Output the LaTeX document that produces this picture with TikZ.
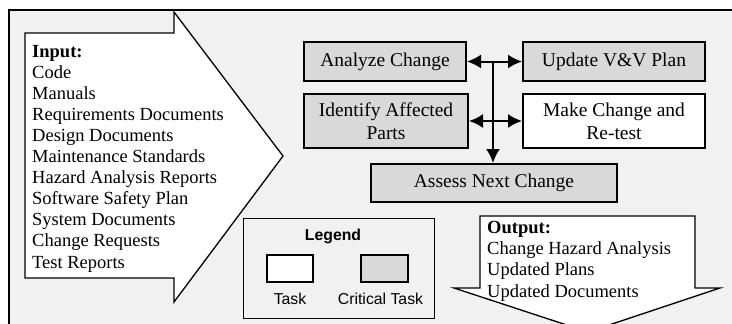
\documentclass[tikz,border=0pt]{standalone}
\usepackage{fontspec}
\setmainfont{Liberation Serif}
\setsansfont{Liberation Sans}
\usetikzlibrary{arrows.meta}
\definecolor{bggray}{HTML}{F1F1F1}
\definecolor{critgray}{HTML}{D9D9D9}
\begin{document}
\begin{tikzpicture}[x=1pt,y=-1pt,
  taskbox/.style={draw=black,line width=2pt,fill=white,minimum width=#1,inner sep=1pt,align=center,
    font=\fontsize{19.5}{23}\selectfont},
  critbox/.style={taskbox=#1,fill=critgray},
  conn/.style={line width=2pt,{Latex[length=14pt,width=14pt]}-{Latex[length=14pt,width=14pt]}},
  oneway/.style={line width=2pt,-{Latex[length=14pt,width=14pt]}},
  bigarrow/.style={draw=black,line width=1.3pt,fill=white,line join=miter},
  listtext/.style={inner sep=0pt,anchor=base west,align=left,font=\fontsize{18.5}{21.1}\selectfont},
  legtext/.style={inner sep=0pt,font=\sffamily\fontsize{15.8}{18}\selectfont}]
\useasboundingbox (0,0) rectangle (732,324);
\fill[white] (0,0) rectangle (732,324);
\begin{scope}
\clip (0,0) rectangle (732,324);
\draw[fill=bggray,line width=1.4pt] (9,10) rectangle (745,340);
% input arrow
\draw[bigarrow] (25,33) -- (174,33) -- (174,12) -- (283,156) -- (174,302) -- (174,278) -- (25,278) -- cycle;
\node[listtext] (inp) at (32,268) {\textbf{Input:}\\Code\\Manuals\\Requirements Documents\\Design Documents\\Maintenance Standards\\Hazard Analysis Reports\\Software Safety Plan\\System Documents\\Change Requests\\Test Reports};
% output arrow
\draw[bigarrow] (480,216) -- (695,216) -- (695,288) -- (720,288) -- (588,332) -- (454,288) -- (480,288) -- cycle;
\node[listtext] (outp) at (487,297) {\textbf{Output:}\\Change Hazard Analysis\\Updated Plans\\Updated Documents};
\end{scope}
% tasks
\node[critbox=162pt,minimum height=39pt] (analyze) at (385,61.5) {Analyze Change};
\node[critbox=182pt,minimum height=39pt] (update) at (614,61.5) {Update V\&V Plan};
\node[critbox=164pt,minimum height=54pt] (identify) at (386,121) {Identify Affected\\Parts};
\node[taskbox=182pt,minimum height=54pt] (make) at (614,121) {Make Change and\\Re-test};
\node[critbox=246pt,minimum height=38pt] (assess) at (494,183) {Assess Next Change};
% connectors
\coordinate (hub) at (493,61.5);
\draw[conn] (analyze.east) -- (update.west);
\draw[conn] (identify.east) -- (make.west);
\draw[oneway] (hub) -- (hub |- assess.north);
% legend
\draw[line width=1pt] (243,218) rectangle (434,318);
\node[legtext,font=\sffamily\bfseries\fontsize{15.8}{18}\selectfont] (legend) at (333,236) {Legend};
\node[draw=black,line width=2pt,fill=white,minimum width=46pt,minimum height=27pt,inner sep=0pt] (lt) at (290,268.5) {};
\node[draw=black,line width=2pt,fill=critgray,minimum width=47pt,minimum height=27pt,inner sep=0pt] (lc) at (384.5,268.5) {};
\node[legtext] (ltl) at (290,299) {Task};
\node[legtext] (lcl) at (380.5,299) {Critical Task};
\end{tikzpicture}
\end{document}
